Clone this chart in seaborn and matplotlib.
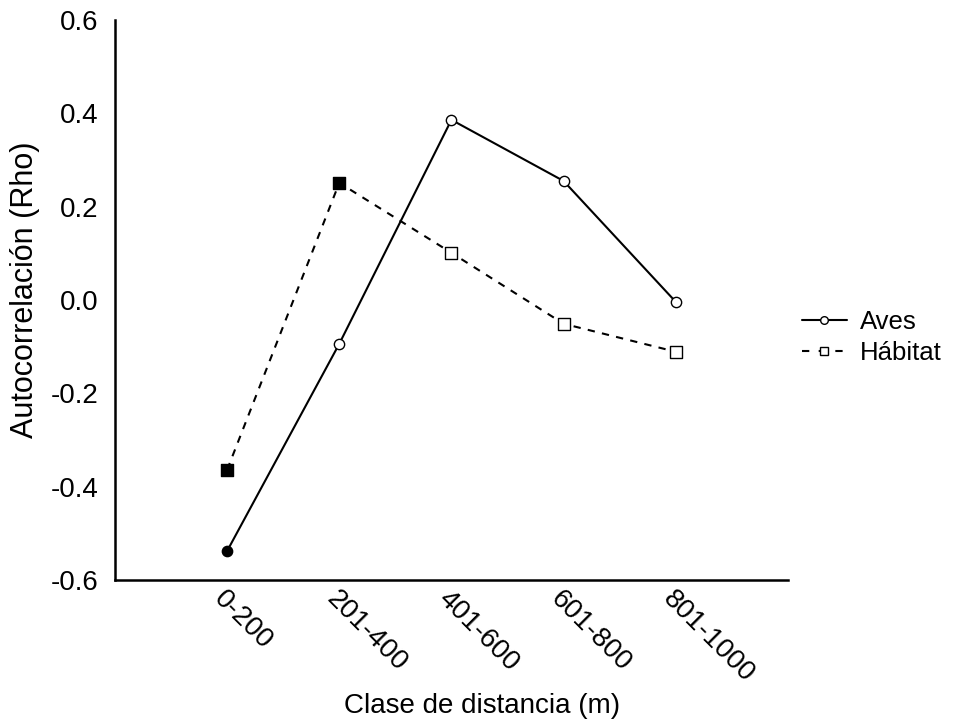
import matplotlib
matplotlib.use("Agg")
import matplotlib.pyplot as plt
from matplotlib.lines import Line2D
import seaborn as sns
import pandas as pd

categories = ["0-200", "201-400", "401-600", "601-800", "801-1000"]
aves = [-0.538, -0.094, 0.386, 0.255, -0.004]
habitat = [-0.364, 0.251, 0.101, -0.051, -0.111]
# significant correlations are drawn with filled markers
aves_sig = [True, False, False, False, False]
habitat_sig = [True, True, False, False, False]

sns.set_style("white")
plt.rcParams["font.family"] = ["Liberation Sans", "DejaVu Sans"]
plt.rcParams["text.color"] = "black"
plt.rcParams["axes.labelcolor"] = "black"

FS = 20

pos = list(range(len(categories)))
df = pd.DataFrame({
    "pos": pos * 2,
    "rho": aves + habitat,
    "serie": ["Aves"] * 5 + ["Hábitat"] * 5,
    "sig": aves_sig + habitat_sig,
})

fig = plt.figure(figsize=(9.55, 7.24), dpi=100)
ax = fig.add_axes([0.1204, 0.199, 0.7046, 0.7734])

sns.lineplot(data=df[df.serie == "Aves"], x="pos", y="rho", ax=ax,
             color="black", lw=1.5, legend=False)
sns.lineplot(data=df[df.serie == "Hábitat"], x="pos", y="rho", ax=ax,
             color="black", lw=1.5, legend=False)
ax.lines[1].set_dashes([3.5, 3.5])

for serie, mk, ms in [("Aves", "o", 55), ("Hábitat", "s", 65)]:
    sub = df[df.serie == serie]
    for sig, fc in [(True, "black"), (False, "white")]:
        part = sub[sub.sig == sig]
        sns.scatterplot(data=part, x="pos", y="rho", ax=ax, marker=mk, s=ms,
                        facecolor=fc, edgecolor="black", linewidth=1.0,
                        zorder=3, legend=False)

ax.set_xlim(-1, 5)
ax.set_ylim(-0.6, 0.6)
ax.set_xticks(pos)
ax.set_xticklabels(categories, rotation=-45, ha="left", va="top",
                   rotation_mode="anchor")
ax.set_yticks([-0.6, -0.4, -0.2, 0.0, 0.2, 0.4, 0.6])
ax.set_yticklabels(["-0.6", "-0.4", "-0.2", "0.0", "0.2", "0.4", "0.6"])
ax.tick_params(axis="both", direction="in", length=4, width=1.5,
               labelsize=FS, colors="black", pad=12)
ax.tick_params(axis="x", pad=4)
for side in ["top", "right"]:
    ax.spines[side].set_visible(False)
for side in ["left", "bottom"]:
    ax.spines[side].set_color("black")
    ax.spines[side].set_linewidth(1.8)

ax.set_xlabel("Clase de distancia (m)", fontsize=FS, va="center")
ax.xaxis.set_label_coords(0.545, -0.225)
ax.set_ylabel("Autocorrelación (Rho)", fontsize=22, va="center")
ax.yaxis.set_label_coords(-0.134, 0.518)

handles = [
    Line2D([], [], color="black", lw=1.5, marker="o", ms=5.5,
           markerfacecolor="white", markeredgecolor="black"),
    Line2D([], [], color="black", lw=1.5, dashes=[3.5, 4.5], marker="s", ms=6,
           markerfacecolor="white", markeredgecolor="black"),
]
fig.legend(handles, ["Aves", "Hábitat"], loc="center left",
           bbox_to_anchor=(0.826, 0.534), frameon=False, fontsize=18.5,
           borderpad=0, handlelength=1.75, handletextpad=0.5,
           labelspacing=0.3)

fig.savefig("out.png", dpi=100, facecolor="white")
